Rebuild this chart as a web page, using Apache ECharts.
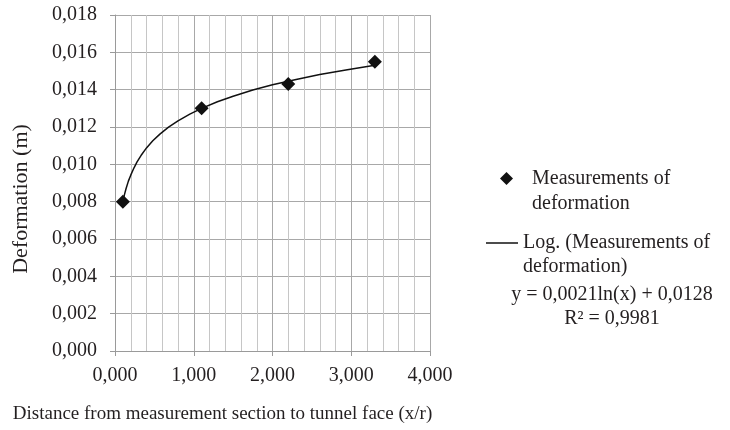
<!DOCTYPE html>
<html>
<head>
<meta charset="utf-8">
<script src="https://cdn.jsdelivr.net/npm/echarts@6/dist/echarts.min.js"></script>
<style>html,body{margin:0;padding:0;background:#fff}#c{width:730px;height:430px}</style>
</head>
<body>
<div id="c"></div>
<script>
// Measured points (x/r, deformation m)
var measX = [0.1, 1.1, 2.2, 3.3];
var measY = [0.0080, 0.0130, 0.0143, 0.0155];
// Trend curve points
var trendX = [0.10, 0.12, 0.14, 0.17, 0.20, 0.24, 0.28, 0.33, 0.40, 0.48, 0.57, 0.68, 0.80, 0.95, 1.10, 1.30, 1.50, 1.75, 2.00, 2.30, 2.60, 2.95, 3.30];
var trendY = [0.00800, 0.00838, 0.00869, 0.00910, 0.00942, 0.00980, 0.01013, 0.01047, 0.01088, 0.01126, 0.01162, 0.01199, 0.01233, 0.01269, 0.01300, 0.01335, 0.01365, 0.01398, 0.01426, 0.01455, 0.01481, 0.01507, 0.01531];
var seriesNames = ['Measurements of deformation', 'Log. (Measurements of deformation)'];
var legendLabels = ['Measurements of\ndeformation', 'Log. (Measurements of\ndeformation)'];
var equationLines = ['y = 0,0021ln(x) + 0,0128', 'R\u00B2 = 0,9981'];
var xTitle = 'Distance from measurement section to tunnel face (x/r)';
var yTitle = 'Deformation (m)';

function fmt(v, d) { return v.toFixed(d).replace('.', ','); }
function pairs(xs, ys) { return xs.map(function (x, i) { return [x, ys[i]]; }); }

var FONT = 'Liberation Serif';
var TXT = '#231f20';
var MARK = '#111111';
var chart = echarts.init(document.getElementById('c'), null, { renderer: 'canvas' });
chart.setOption({
  animation: false,
  backgroundColor: '#fff',
  textStyle: { fontFamily: FONT, color: TXT },
  grid: { left: 115, right: 300, top: 15, bottom: 79, containLabel: false },
  xAxis: {
    type: 'value', min: 0, max: 4, interval: 1,
    name: xTitle, nameLocation: 'middle', nameGap: 54,
    nameTextStyle: { fontFamily: FONT, fontSize: 19, color: TXT, padding: [0, 100, 0, 0] },
    axisLine: { show: true, lineStyle: { color: '#9a9a9a', width: 1 } },
    axisTick: { show: true, length: 5, lineStyle: { color: '#9a9a9a' } },
    axisLabel: { fontFamily: FONT, fontSize: 20, color: TXT, margin: 15, formatter: function (v) { return fmt(v, 3); } },
    splitLine: { show: true, lineStyle: { color: '#a8a8a8', width: 1 } },
    minorTick: { show: false, splitNumber: 5 },
    minorSplitLine: { show: true, lineStyle: { color: '#c6c6c6', width: 1 } }
  },
  yAxis: {
    type: 'value', min: 0, max: 0.018, interval: 0.002,
    name: yTitle, nameLocation: 'middle', nameGap: 83, nameRotate: 90,
    nameTextStyle: { fontFamily: FONT, fontSize: 22, color: TXT, padding: [0, 32, 0, 0] },
    axisLine: { show: true, lineStyle: { color: '#9a9a9a', width: 1 } },
    axisTick: { show: true, length: 5, lineStyle: { color: '#9a9a9a' } },
    axisLabel: { fontFamily: FONT, fontSize: 20, color: TXT, margin: 18, formatter: function (v) { return fmt(v, 3); } },
    splitLine: { show: true, lineStyle: { color: '#a8a8a8', width: 1 } }
  },
  legend: [
    {
      data: [{ name: seriesNames[0], icon: 'diamond' }], orient: 'vertical', left: 500, top: 141, padding: 0,
      itemWidth: 13, itemHeight: 13, itemStyle: { opacity: 1 },
      formatter: function () { return ' \n' + legendLabels[0]; },
      textStyle: { fontFamily: FONT, fontSize: 20, color: TXT, lineHeight: 25, padding: [0, 0, 0, 14] }
    },
    {
      data: [{ name: seriesNames[1], icon: 'rect' }], orient: 'vertical', left: 486, top: 207, padding: 0,
      itemWidth: 32, itemHeight: 1.5,
      formatter: function () { return ' \n' + legendLabels[1]; },
      textStyle: { fontFamily: FONT, fontSize: 20, color: TXT, lineHeight: 24 }
    }
  ],
  graphic: [
    {
      type: 'text', z: 10,
      style: {
        x: 612, y: 282, text: equationLines.join('\n'), align: 'center', verticalAlign: 'top',
        fontFamily: FONT, fontSize: 20, lineHeight: 24.5, fill: TXT
      }
    }
  ],
  series: [
    {
      name: seriesNames[1], type: 'line', data: pairs(trendX, trendY), smooth: false,
      symbol: 'none', lineStyle: { color: MARK, width: 1.5, join: 'round' }, itemStyle: { color: MARK }, z: 2
    },
    {
      name: seriesNames[0], type: 'scatter', data: pairs(measX, measY),
      symbol: 'diamond', symbolSize: 14, itemStyle: { color: MARK, opacity: 1 }, z: 3
    }
  ]
});
</script>
</body>
</html>
